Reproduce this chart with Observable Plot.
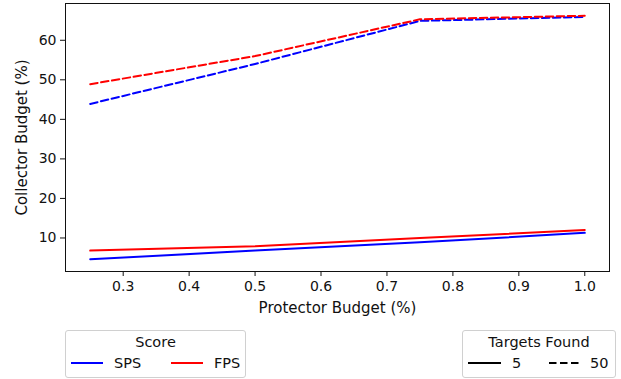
<!DOCTYPE html>
<html>
<head>
<meta charset="utf-8">
<script src="https://cdn.jsdelivr.net/npm/d3@7"></script>
<script src="https://cdn.jsdelivr.net/npm/@observablehq/plot@0.6"></script>
<style>
  html, body { margin: 0; padding: 0; background: #fff; }
  body { width: 621px; height: 379px; position: relative; overflow: hidden; font-family: "DejaVu Sans", sans-serif; }
  #chart { position: absolute; left: 0; top: 0; }
  .legend { position: absolute; border: 1px solid #d0d0d0; border-radius: 3px; box-sizing: border-box; font-size: 14.5px; color: #111; background: #fff; }
  .legend .title { position: absolute; left: 0; right: 0; top: 3px; text-align: center; }
  .legend .item { position: absolute; top: 24px; display: flex; align-items: center; }
  .legend .item svg { margin-right: 11px; }
</style>
</head>
<body>
<div id="chart"></div>
<div class="legend" style="left:65px; top:330px; width:181px; height:48px;">
  <div class="title">Score</div>
  <div class="item" style="left:5px;"><svg width="32" height="4"><line x1="0" y1="2" x2="32" y2="2" stroke="#0000ff" stroke-width="2"/></svg>SPS</div>
  <div class="item" style="left:105px;"><svg width="32" height="4"><line x1="0" y1="2" x2="32" y2="2" stroke="#ff0000" stroke-width="2"/></svg>FPS</div>
</div>
<div class="legend" style="left:462px; top:330px; width:154px; height:48px;">
  <div class="title">Targets Found</div>
  <div class="item" style="left:5px;"><svg width="33" height="4"><line x1="0" y1="2" x2="33" y2="2" stroke="#000" stroke-width="2"/></svg>5</div>
  <div class="item" style="left:86px;"><svg width="30" height="4"><line x1="0" y1="2" x2="30" y2="2" stroke="#000" stroke-width="2" stroke-dasharray="7.5,3.5"/></svg>50</div>
</div>
<script>
const budgets = [0.25, 0.5, 0.75, 1.0];
const sps5 = [4.6, 6.8, 8.9, 11.3];
const fps5 = [6.8, 7.9, 10.0, 12.0];
const sps50 = [43.9, 54.0, 64.9, 65.9];
const fps50 = [48.9, 56.0, 65.3, 66.2];
const xTicks = [0.3, 0.4, 0.5, 0.6, 0.7, 0.8, 0.9, 1.0];
const yTicks = [10, 20, 30, 40, 50, 60];

const series = [
  {score: "SPS", targets: 5, values: sps5},
  {score: "FPS", targets: 5, values: fps5},
  {score: "SPS", targets: 50, values: sps50},
  {score: "FPS", targets: 50, values: fps50}
];
const rows = series.flatMap(s => s.values.map((v, i) => ({x: budgets[i], y: v, score: s.score, targets: s.targets, key: s.score + s.targets})));
const colors = {SPS: "#0000ff", FPS: "#ff0000"};

const chart = Plot.plot({
  width: 621,
  height: 321,
  marginLeft: 65,
  marginRight: 12,
  marginTop: 3,
  marginBottom: 50,
  style: {fontFamily: "DejaVu Sans, sans-serif", fontSize: "14px", color: "#111", background: "#fff"},
  x: {domain: [0.2125, 1.0375]},
  y: {domain: [1.52, 69.3]},
  marks: [
    Plot.axisX({ticks: xTicks, tickFormat: d3.format(".1f"), tickSize: 5, tickPadding: 5, label: "Protector Budget (%)", labelAnchor: "center", labelArrow: "none", labelOffset: 41, fontSize: 14}),
    Plot.axisY({ticks: yTicks, tickSize: 5, tickPadding: 4, label: "Collector Budget (%)", labelAnchor: "center", labelArrow: "none", labelOffset: 49, fontSize: 14}),
    ...series.map(s => Plot.line(rows.filter(r => r.key === s.score + s.targets), {
      x: "x", y: "y", stroke: colors[s.score], strokeWidth: 2,
      strokeDasharray: s.targets === 50 ? "7.5,3.5" : null
    })),
    Plot.frame({stroke: "#111", strokeWidth: 1})
  ]
});
d3.select(chart).selectAll('[aria-label="x-axis label"], [aria-label="y-axis label"]')
  .attr("font-size", 15).selectAll("text").attr("font-size", 15);
document.getElementById("chart").appendChild(chart);
</script>
</body>
</html>
